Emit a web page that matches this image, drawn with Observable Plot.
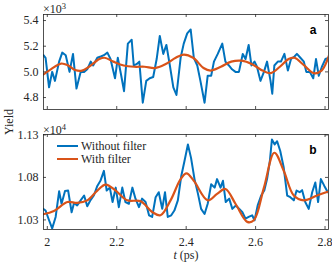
<!DOCTYPE html>
<html>
<head>
<meta charset="utf-8">
<script src="https://cdn.jsdelivr.net/npm/d3@7"></script>
<script src="https://cdn.jsdelivr.net/npm/@observablehq/plot@0.6"></script>
<style>
  html, body { margin: 0; padding: 0; background: #fff; }
  #fig { position: relative; width: 332px; height: 263px; font-family: "Liberation Serif", serif; color: #262626; }
  #fig svg { position: absolute; left: 0; overflow: visible; }
  .abs { position: absolute; white-space: nowrap; }
</style>
</head>
<body>
<div id="fig"></div>
<script>
// ---- Panel a (×10^3) ----
const tA = [1.989,1.995,2.005,2.014,2.022,2.034,2.043,2.053,2.064,2.074,2.084,2.096,2.106,2.115,2.125,2.132,2.144,2.154,2.163,2.173,2.182,2.195,2.203,2.213,2.221,2.232,2.243,2.249,2.257,2.265,2.275,2.285,2.295,2.305,2.315,2.324,2.334,2.343,2.353,2.363,2.372,2.384,2.393,2.403,2.413,2.422,2.432,2.441,2.453,2.462,2.472,2.480,2.491,2.504,2.513,2.523,2.532,2.542,2.552,2.563,2.571,2.580,2.588,2.597,2.604,2.614,2.624,2.633,2.643,2.648,2.654,2.664,2.673,2.683,2.693,2.702,2.712,2.719,2.729,2.739,2.746,2.756,2.766,2.774,2.782,2.791,2.801,2.811];
const yA = [5.13,5.11,4.88,5.00,4.93,5.08,5.15,5.13,5.00,5.14,4.87,5.00,5.00,5.02,5.08,5.05,5.11,5.12,5.13,5.15,5.10,4.95,5.11,4.97,4.85,5.22,5.25,5.05,5.06,5.08,4.76,4.93,4.95,4.96,5.10,5.28,5.14,5.21,5.05,4.88,4.82,5.11,5.22,5.30,5.33,5.11,5.05,4.93,4.76,4.97,4.97,5.08,5.14,5.22,5.08,5.05,5.02,5.00,5.00,5.14,5.10,5.21,5.05,5.08,5.04,4.93,5.00,5.08,4.93,4.83,5.05,5.08,5.08,5.14,5.01,5.10,5.12,5.14,5.11,5.08,5.00,5.00,4.95,5.10,4.97,5.04,5.10,5.11];
const tAf = [1.989,2.01,2.04,2.06,2.08,2.10,2.12,2.15,2.165,2.19,2.22,2.25,2.28,2.31,2.34,2.37,2.393,2.42,2.45,2.47,2.50,2.53,2.56,2.59,2.62,2.643,2.67,2.695,2.712,2.74,2.768,2.79,2.811];
const yAf = [4.98,5.02,5.065,5.05,5.015,5.01,5.04,5.10,5.11,5.08,5.05,5.04,5.04,5.03,5.06,5.11,5.135,5.11,5.03,5.01,5.04,5.08,5.087,5.06,5.01,4.99,5.04,5.10,5.11,5.05,4.99,5.01,5.125];
const ticksA = [4.8, 5.0, 5.2, 5.4];

// ---- Panel b (×10^4) ----
const tB = [1.988,1.995,2.005,2.014,2.024,2.034,2.041,2.051,2.060,2.070,2.077,2.086,2.096,2.106,2.115,2.125,2.134,2.144,2.153,2.163,2.171,2.180,2.188,2.197,2.206,2.216,2.225,2.235,2.245,2.254,2.264,2.273,2.283,2.293,2.302,2.312,2.321,2.331,2.339,2.347,2.357,2.366,2.376,2.386,2.395,2.405,2.414,2.424,2.434,2.443,2.453,2.462,2.472,2.482,2.489,2.499,2.506,2.514,2.524,2.533,2.543,2.553,2.562,2.571,2.580,2.590,2.597,2.606,2.616,2.625,2.633,2.641,2.647,2.655,2.662,2.671,2.681,2.691,2.700,2.710,2.718,2.727,2.734,2.743,2.753,2.763,2.772,2.780,2.788,2.798,2.808,2.813];
const yB = [1.043,1.041,1.0296,1.020,1.0335,1.0637,1.049,1.064,1.0645,1.039,1.050,1.047,1.053,1.0587,1.046,1.0536,1.0587,1.070,1.076,1.0877,1.0645,1.068,1.051,1.068,1.045,1.068,1.051,1.049,1.068,1.055,1.045,1.055,1.051,1.0354,1.0335,1.0567,1.0626,1.043,1.0626,1.0335,1.0354,1.041,1.0529,1.082,1.099,1.1188,1.103,1.078,1.0606,1.043,1.037,1.049,1.072,1.068,1.078,1.068,1.076,1.051,1.055,1.043,1.047,1.043,1.039,1.0315,1.0335,1.0354,1.0296,1.047,1.0587,1.0645,1.078,1.099,1.1246,1.1188,1.1226,1.111,1.0916,1.0587,1.0567,1.053,1.0645,1.0626,1.065,1.051,1.043,1.0626,1.074,1.051,1.078,1.070,1.0626,1.064];
const tBf = [1.988,2.019,2.058,2.086,2.115,2.144,2.168,2.197,2.230,2.269,2.302,2.326,2.355,2.384,2.401,2.422,2.462,2.489,2.513,2.542,2.576,2.595,2.624,2.654,2.681,2.710,2.739,2.777,2.811];
const yBf = [1.0366,1.0405,1.051,1.050,1.053,1.0645,1.0715,1.0645,1.053,1.052,1.0393,1.0354,1.053,1.078,1.0847,1.076,1.053,1.0606,1.0664,1.049,1.0277,1.0296,1.068,1.109,1.0878,1.0587,1.053,1.0587,1.0637];
const ticksB = [1.03, 1.08, 1.13];

const xTicks = [2, 2.2, 2.4, 2.6, 2.8];
const xTickLabels = ["2", "2.2", "2.4", "2.6", "2.8"];
const seriesNames = ["Without filter", "With filter"];
const colors = ["#0072BD", "#D95319"];

const W = 332, ML = 43, MR = 4, MT = 14;
const FONT = '"Liberation Serif", serif';
const AXC = "#262626";
const tickLen = 3;

function panel({h, mb, yDomain, yTicks, yFmt, blueT, blueY, redT, redY, showX, letter}) {
  const blue = blueT.map((t, i) => ({t, v: blueY[i]}));
  const red = redT.map((t, i) => ({t, v: redY[i]}));
  const innerH = h - MT - mb, innerW = W - ML - MR;
  return Plot.plot({
    width: W, height: h,
    marginLeft: ML, marginRight: MR, marginTop: MT, marginBottom: mb,
    style: {fontFamily: FONT, fontSize: "12px", color: AXC, background: "transparent", overflow: "visible"},
    x: {domain: [1.989, 2.81]},
    y: {domain: yDomain},
    marks: [
      Plot.line(blue, {x: "t", y: "v", stroke: colors[0], strokeWidth: 2, clip: true, strokeLinejoin: "round"}),
      Plot.line(red, {x: "t", y: "v", stroke: colors[1], strokeWidth: 2.2, curve: "catmull-rom", clip: true}),
      Plot.frame({stroke: AXC, strokeWidth: 0.8}),
      Plot.ruleX(xTicks, {stroke: AXC, strokeWidth: 0.8, insetTop: innerH - tickLen}),
      Plot.ruleX(xTicks, {stroke: AXC, strokeWidth: 0.8, insetBottom: innerH - tickLen}),
      Plot.ruleY(yTicks, {stroke: AXC, strokeWidth: 0.8, insetRight: innerW - tickLen}),
      Plot.ruleY(yTicks, {stroke: AXC, strokeWidth: 0.8, insetLeft: innerW - tickLen}),
      Plot.axisY({ticks: yTicks, tickFormat: yFmt, tickSize: 0, tickPadding: 5, label: null, fontSize: 12}),
      showX
        ? Plot.axisX({ticks: xTicks, tickFormat: (d, i) => xTickLabels[i], tickSize: 0, tickPadding: 8, label: null, fontSize: 12})
        : Plot.axisX({ticks: [], label: null}),
      Plot.text([letter], {frameAnchor: "top-right", dx: -12, dy: 11, fontFamily: '"Liberation Sans", Arial, sans-serif', fontWeight: "bold", fontSize: 12, fill: "#000", text: d => d})
    ]
  });
}

const fig = document.getElementById("fig");
const panelA = panel({h: 120, mb: 11, yDomain: [4.707, 5.447], yTicks: ticksA, yFmt: d3.format(".1f"),
  blueT: tA, blueY: yA, redT: tAf, redY: yAf, showX: false, letter: "a"});
panelA.style.top = "0px";
fig.appendChild(panelA);

const panelB = panel({h: 143, mb: 34, yDomain: [1.0187, 1.1305], yTicks: ticksB, yFmt: d3.format(".2f"),
  blueT: tB, blueY: yB, redT: tBf, redY: yBf, showX: true, letter: "b"});
panelB.style.top = "120px";
fig.appendChild(panelB);

function addText(html, css) {
  const d = document.createElement("div");
  d.className = "abs";
  d.innerHTML = html;
  Object.assign(d.style, css);
  fig.appendChild(d);
  return d;
}
// exponent labels
addText("×10<sup style='font-size:8.5px;vertical-align:4px'>3</sup>", {left: "43px", top: "0px", fontSize: "12px", lineHeight: "12px"});
addText("×10<sup style='font-size:8.5px;vertical-align:4px'>4</sup>", {left: "43px", top: "121px", fontSize: "12px", lineHeight: "12px"});
// y label
addText("Yield", {left: "9px", top: "122px", fontSize: "12px", lineHeight: "14px", transform: "translate(-50%,-50%) rotate(-90deg)"});
// x label
addText("<i>t</i> (ps)", {left: "186px", top: "248px", fontSize: "12px", lineHeight: "14px", transform: "translateX(-50%)"});
// legend
seriesNames.forEach((name, i) => {
  const y = 146 + i * 13;
  addText("", {left: "57px", top: (y - 1) + "px", width: "21px", height: "0px", borderTop: "2px solid " + colors[i]});
  addText(name, {left: "81px", top: (y - 7) + "px", fontSize: "12px", lineHeight: "14px"});
});
</script>
</body>
</html>
